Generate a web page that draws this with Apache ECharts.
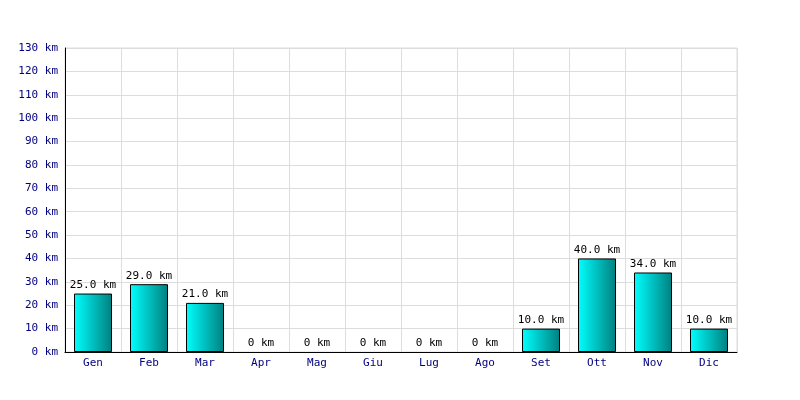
<!DOCTYPE html>
<html><head><meta charset="utf-8">
<script src="https://cdn.jsdelivr.net/npm/echarts@6/dist/echarts.min.js"></script>
<style>html,body{margin:0;padding:0;background:#fff}#c{width:800px;height:400px}</style>
</head><body><div id="c"></div>
<script>
const months = ['Gen','Feb','Mar','Apr','Mag','Giu','Lug','Ago','Set','Ott','Nov','Dic'];
const km = [25, 29, 21, 0, 0, 0, 0, 0, 10, 40, 34, 10];
const yMin = 0, yMax = 130, yStep = 10;
const font = '"DejaVu Sans Mono", monospace';
const chart = echarts.init(document.getElementById('c'), null, {renderer:'canvas'});
chart.setOption({
  animation:false,
  backgroundColor:'#fff',
  grid:{left:65, right:63, top:48, bottom:48, show:true, borderColor:'#dddddd', borderWidth:1},
  xAxis:{type:'category', data:months, boundaryGap:true,
    axisLine:{lineStyle:{color:'#000', width:1}}, axisTick:{show:false},
    axisLabel:{color:'#000080', fontFamily:font, fontSize:11, margin:6},
    splitLine:{show:true, lineStyle:{color:'#dddddd', width:1}}},
  yAxis:{type:'value', min:yMin, max:yMax, interval:yStep,
    axisLine:{show:true, lineStyle:{color:'#000', width:1}}, axisTick:{show:false},
    axisLabel:{color:'#000080', fontFamily:font, fontSize:11, margin:7, formatter:v=>v+' km'},
    splitLine:{show:true, lineStyle:{color:'#dddddd', width:1}}},
  series:[{type:'bar', barWidth:38,
    data:km.map(v=>v===0?{value:v,itemStyle:{borderWidth:0,borderColor:'rgba(0,0,0,0)',color:'rgba(0,0,0,0)'}}:v),
    itemStyle:{borderColor:'#000', borderWidth:1,
      color:new echarts.graphic.LinearGradient(0,0,1,0,[{offset:0,color:'#00ffff'},{offset:1,color:'#008080'}])},
    label:{show:true, position:'top', distance:3, color:'#000', fontFamily:font, fontSize:11,
      formatter:p=>p.value===0?'0 km':p.value.toFixed(1)+' km'}}]
});
</script></body></html>
